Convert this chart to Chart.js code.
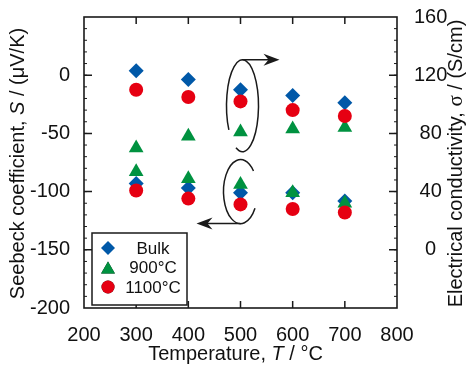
<!DOCTYPE html>
<html>
<head>
<meta charset="utf-8">
<script src="https://cdn.jsdelivr.net/npm/chart.js@4/dist/chart.umd.min.js"></script>
<style>
  html, body { margin: 0; padding: 0; background: #fff; }
</style>
</head>
<body>
<canvas id="chart" width="467" height="367"></canvas>
<script>
// temperatures (°C)
const temps = [300, 400, 500, 600, 700];
const seriesNames = ["Bulk", "900°C", "1100°C"];

// Seebeck coefficient, µV/K (left axis)
const seebeckBulk = [-93, -97, -101, -101, -108];
const seebeck900 = [-83, -89, -94, -101, -110];
const seebeck1100 = [-99, -106, -111, -115, -118];

// electrical conductivity, S/cm (right axis)
const condBulk = [123, 117, 110, 106, 101];
const cond900 = [70, 78, 81, 83, 84];
const cond1100 = [110, 105, 102, 96, 92];

const xTicks = [200, 300, 400, 500, 600, 700, 800];
const seebeckTicks = [-200, -150, -100, -50, 0];
const condTicks = [0, 40, 80, 120, 160];

const colors = ["#0058a8", "#009240", "#e60012"];
const shapes = ["rectRot", "triangle", "circle"];
const radii = [7.5, 8.5, 7];
const FONT = "'Liberation Sans', Arial, sans-serif";

function pts(ys) {
    return temps.map((t, i) => ({ x: t, y: ys[i] }));
}

function series(idx, ys, axis) {
    return {
        label: seriesNames[idx],
        data: pts(ys),
        yAxisID: axis,
        pointStyle: shapes[idx],
        pointRadius: radii[idx],
        pointHoverRadius: radii[idx],
        backgroundColor: colors[idx],
        borderColor: colors[idx],
        pointBorderWidth: 0,
        showLine: false,
        order: 3 - idx
    };
}

function richText(ctx, parts, x, y, rot) {
    ctx.save();
    ctx.translate(x, y);
    ctx.rotate(rot);
    ctx.textBaseline = "middle";
    ctx.textAlign = "left";
    let total = 0;
    parts.forEach(p => { ctx.font = p[1]; total += ctx.measureText(p[0]).width; });
    let cx = -total / 2;
    parts.forEach(p => {
        ctx.font = p[1];
        ctx.fillText(p[0], cx, 0);
        cx += ctx.measureText(p[0]).width;
    });
    ctx.restore();
}

function arrowHead(ctx, x, y, dir) {
    // dir = 1 points right, -1 points left
    ctx.beginPath();
    ctx.moveTo(x, y);
    ctx.lineTo(x - dir * 16, y - 6);
    ctx.lineTo(x - dir * 11, y);
    ctx.lineTo(x - dir * 16, y + 6);
    ctx.closePath();
    ctx.fill();
}

const decorations = {
    id: "decorations",
    afterDraw(chart) {
        const ctx = chart.ctx;
        const a = chart.chartArea;
        const sx = chart.scales.x, sy = chart.scales.y, sy2 = chart.scales.y2;
        ctx.save();
        ctx.strokeStyle = "#1a1a1a";
        ctx.fillStyle = "#1a1a1a";

        // frame
        ctx.lineWidth = 1.6;
        ctx.strokeRect(a.left, a.top, a.right - a.left, a.bottom - a.top);

        // major ticks pointing inward
        ctx.lineWidth = 1.5;
        ctx.beginPath();
        xTicks.slice(1, -1).forEach(v => {
            const px = sx.getPixelForValue(v);
            ctx.moveTo(px, a.bottom); ctx.lineTo(px, a.bottom - 7);
            ctx.moveTo(px, a.top); ctx.lineTo(px, a.top + 7);
        });
        seebeckTicks.slice(1).forEach(v => {
            const py = sy.getPixelForValue(v);
            ctx.moveTo(a.left, py); ctx.lineTo(a.left + 8, py);
        });
        condTicks.slice(0, -1).forEach(v => {
            const py = sy2.getPixelForValue(v);
            ctx.moveTo(a.right, py); ctx.lineTo(a.right - 8, py);
        });
        ctx.stroke();

        // minor ticks
        ctx.lineWidth = 1;
        ctx.beginPath();
        for (let v = -190; v < 50; v += 10) {
            const py = sy.getPixelForValue(v);
            ctx.moveTo(a.left, py); ctx.lineTo(a.left + 3, py);
            ctx.moveTo(a.right, py); ctx.lineTo(a.right - 3, py);
        }
        ctx.stroke();

        // ellipse + arrow pointing to the conductivity axis
        ctx.lineWidth = 1.5;
        const ux = sx.getPixelForValue(500) + 2;
        const uy = sy2.getPixelForValue(99);
        ctx.beginPath();
        ctx.ellipse(ux, uy, 16, 46, 0, 2.59, 1.99 + Math.PI * 2);
        ctx.stroke();
        ctx.beginPath();
        ctx.moveTo(ux, uy - 46);
        ctx.lineTo(ux + 30, uy - 46);
        ctx.stroke();
        arrowHead(ctx, ux + 37, uy - 46, 1);

        // ellipse + arrow pointing to the Seebeck axis
        const lx = sx.getPixelForValue(500);
        const ly = sy.getPixelForValue(-100);
        ctx.beginPath();
        ctx.ellipse(lx, ly, 17, 32, 0, 0.55, Math.PI * 2 - 0.7);
        ctx.stroke();
        ctx.beginPath();
        ctx.moveTo(lx, ly + 32);
        ctx.lineTo(lx - 36, ly + 32);
        ctx.stroke();
        arrowHead(ctx, lx - 44, ly + 32, -1);

        // legend box
        const lb = { x: a.left + 8, y: a.bottom - 75, w: 95, h: 72 };
        ctx.fillStyle = "#fff";
        ctx.fillRect(lb.x, lb.y, lb.w, lb.h);
        ctx.lineWidth = 1.5;
        ctx.strokeRect(lb.x, lb.y, lb.w, lb.h);
        ctx.font = "17px " + FONT;
        ctx.textAlign = "center";
        ctx.textBaseline = "middle";
        chart.data.datasets.slice(0, 3).forEach((ds, i) => {
            const ry = lb.y + 15 + i * 19.5;
            Chart.helpers.drawPoint(ctx, {
                pointStyle: ds.pointStyle,
                radius: ds.pointRadius - 0.5,
                borderWidth: 0
            }, lb.x + 16, ry + (ds.pointStyle === "triangle" ? 2 : 0));
            ctx.fillStyle = ds.backgroundColor;
            ctx.fill();
            ctx.fillStyle = "#111";
            ctx.fillText(ds.label, lb.x + 61, ry + 1);
        });

        // axis titles
        ctx.fillStyle = "#111";
        const reg = "20px " + FONT, ital = "italic 20px " + FONT;
        const midY = (a.top + a.bottom) / 2;
        richText(ctx, [["Temperature, ", reg], ["T", ital], [" / °C", reg]],
            (a.left + a.right) / 2 - 5, a.bottom + 46, 0);
        richText(ctx, [["Seebeck coefficient, ", reg], ["S", ital], [" / (μV/K)", reg]],
            18, midY + 1, -Math.PI / 2);
        richText(ctx, [["Electrical conductivity, ", reg], ["σ", "21px 'Liberation Serif', serif"], [" / (S/cm)", reg]],
            456, midY + 1, -Math.PI / 2);
        ctx.restore();
    }
};

const datasets = [
    series(0, seebeckBulk, "y"),
    series(1, seebeck900, "y"),
    series(2, seebeck1100, "y"),
    series(0, condBulk, "y2"),
    series(1, cond900, "y2"),
    series(2, cond1100, "y2")
];

function noPadV(s) { s.paddingTop = 0; s.paddingBottom = 0; }

new Chart(document.getElementById("chart"), {
    type: "scatter",
    data: { datasets: datasets },
    options: {
        responsive: false,
        animation: false,
        layout: { padding: { top: 17, left: 0, right: 0, bottom: 0 } },
        plugins: {
            legend: { display: false },
            tooltip: { enabled: false }
        },
        scales: {
            x: {
                type: "linear",
                min: 200,
                max: 800,
                afterBuildTicks: s => { s.ticks = xTicks.map(v => ({ value: v })); },
                afterFit: s => { s.height = 59; s.paddingLeft = 0; s.paddingRight = 0; },
                grid: { display: false },
                border: { display: false },
                ticks: { color: "#111", padding: 7, font: { size: 20, family: FONT } }
            },
            y: {
                position: "left",
                min: -200,
                max: 50,
                afterBuildTicks: s => { s.ticks = seebeckTicks.map(v => ({ value: v })); },
                afterFit: s => { s.width = 84; noPadV(s); },
                grid: { display: false },
                border: { display: false },
                ticks: { color: "#111", padding: 6, font: { size: 20, family: FONT } }
            },
            y2: {
                position: "right",
                min: -40,
                max: 160,
                afterBuildTicks: s => { s.ticks = condTicks.map(v => ({ value: v })); },
                afterFit: s => { s.width = 70; noPadV(s); },
                grid: { display: false },
                border: { display: false },
                ticks: { color: "#111", padding: 9, crossAlign: "center", font: { size: 20, family: FONT } }
            }
        }
    },
    plugins: [decorations]
});
</script>
</body>
</html>
